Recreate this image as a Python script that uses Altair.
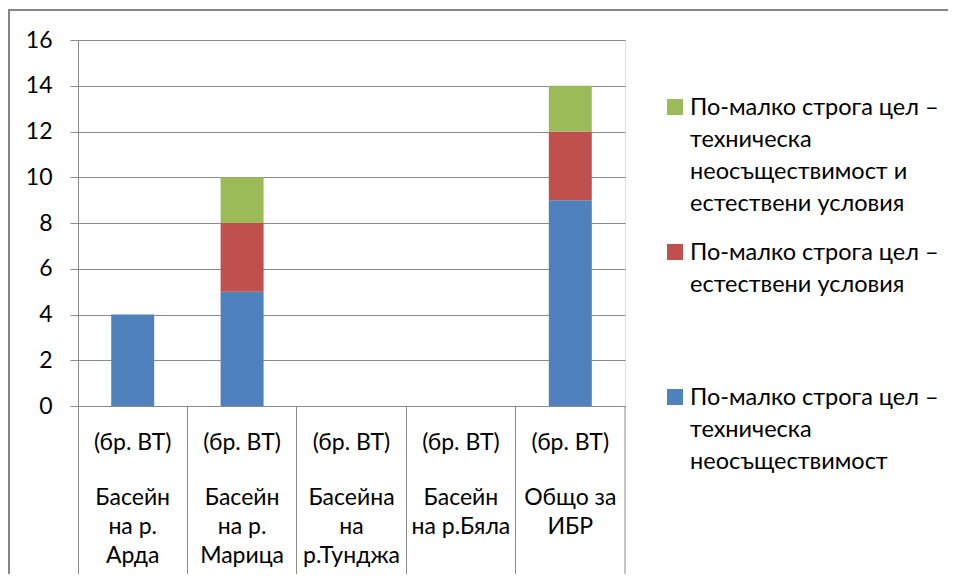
import altair as alt
import pandas as pd

categories = ["Арда", "Марица", "Тунджа", "Бяла", "ИБР"]
top_labels = ["(бр. ВТ)", "(бр. ВТ)", "(бр. ВТ)", "(бр. ВТ)", "(бр. ВТ)"]
name_labels = [
    ["Басейн", "на р.", "Арда"],
    ["Басейн", "на р.", "Марица"],
    ["Басейна", "на", "р.Тунджа"],
    ["Басейн", "на р.Бяла"],
    ["Общо за", "ИБР"],
]
series = ["tech", "nat", "both"]
series_lines = [
    ["По-малко строга цел –", "техническа", "неосъществимост"],
    ["По-малко строга цел –", "естествени условия"],
    ["По-малко строга цел –", "техническа", "неосъществимост и", "естествени условия"],
]
colors = ["#4F81BD", "#C0504D", "#9BBB59"]
values_tech = [4, 5, 0, 0, 9]
values_nat = [0, 3, 0, 0, 3]
values_both = [0, 2, 0, 0, 2]

rows = []
for i, c in enumerate(categories):
    for j, (s, v) in enumerate(zip(series, [values_tech[i], values_nat[i], values_both[i]])):
        rows.append({"cat": c, "series": s, "value": v, "order": j})
df = pd.DataFrame(rows)
lab_df = pd.DataFrame({"cat": categories, "top": top_labels, "name": name_labels})
leg_df = pd.DataFrame({"series": series, "lines": series_lines})

FONT = "Lato"
GRAY = "#8a8a8a"
W, H = 547, 366

xscale = alt.Scale(paddingInner=0, paddingOuter=0)
xenc = alt.X(
    "cat:N", sort=categories, title=None, scale=xscale,
    axis=alt.Axis(labels=False, bandPosition=0, tickSize=169, tickColor=GRAY,
                  domainColor=GRAY, grid=False),
)
cenc = alt.Color("series:N", scale=alt.Scale(domain=series, range=colors), legend=None)

bars = alt.Chart(df).mark_bar(width=alt.RelativeBandSize(0.393)).encode(
    x=xenc,
    y=alt.Y("value:Q", stack="zero", title=None,
            scale=alt.Scale(domain=[0, 16]),
            axis=alt.Axis(values=list(range(0, 17, 2)), tickSize=8, tickColor=GRAY,
                          domainColor=GRAY, gridColor=GRAY, labelPadding=18,
                          labelFontSize=23, labelColor="#000", labelFont=FONT)),
    color=cenc,
    order=alt.Order("order:Q"),
)

end_rule = alt.Chart(lab_df).transform_filter(
    alt.datum.cat == categories[-1]
).mark_rule(color=GRAY, strokeWidth=1).encode(
    x=alt.X("cat:N", sort=categories, bandPosition=1, title=None, scale=xscale),
    y=alt.value(H), y2=alt.value(H + 169))

top_text = alt.Chart(lab_df).mark_text(fontSize=23, font=FONT, color="#000",
                                       baseline="alphabetic", align="center").encode(
    x=xenc, y=alt.value(410), text="top:N")
name_text = alt.Chart(lab_df).mark_text(fontSize=23, font=FONT, color="#000",
                                        baseline="alphabetic", align="center",
                                        lineHeight=29).encode(
    x=xenc, y=alt.value(465), text="name")

leg_y = alt.Y("series:N", sort=list(reversed(series)), title=None, axis=None,
              scale=alt.Scale(type="point", range=[67, 357], padding=0))
leg_sym = alt.Chart(leg_df).mark_square(size=256, opacity=1).encode(
    x=alt.value(597), y=leg_y, color=cenc)
leg_txt = alt.Chart(leg_df).mark_text(fontSize=23.5, font=FONT, color="#000", align="left",
                                      baseline="alphabetic", dy=8, lineHeight=32).encode(
    x=alt.value(612), y=leg_y, text="lines")

frame_df = pd.DataFrame({"f": [0]})
frame_top = alt.Chart(frame_df).mark_rule(color="#858585", strokeWidth=2).encode(
    x=alt.value(-69), x2=alt.value(870), y=alt.value(-30))
frame_left = alt.Chart(frame_df).mark_rule(color="#858585", strokeWidth=2).encode(
    x=alt.value(-69), y=alt.value(-31), y2=alt.value(534))

chart = alt.layer(frame_top, frame_left, bars, end_rule, top_text, name_text,
                  leg_sym, leg_txt).resolve_scale(
    y="independent"
).properties(
    width=W, height=H,
    autosize=alt.AutoSizeParams(type="none"),
    padding={"left": 70, "top": 32, "right": 323, "bottom": 168},
).configure_view(stroke=None).configure(background="white")

chart.save("out.html", embed_options={"renderer": "svg", "actions": False})
